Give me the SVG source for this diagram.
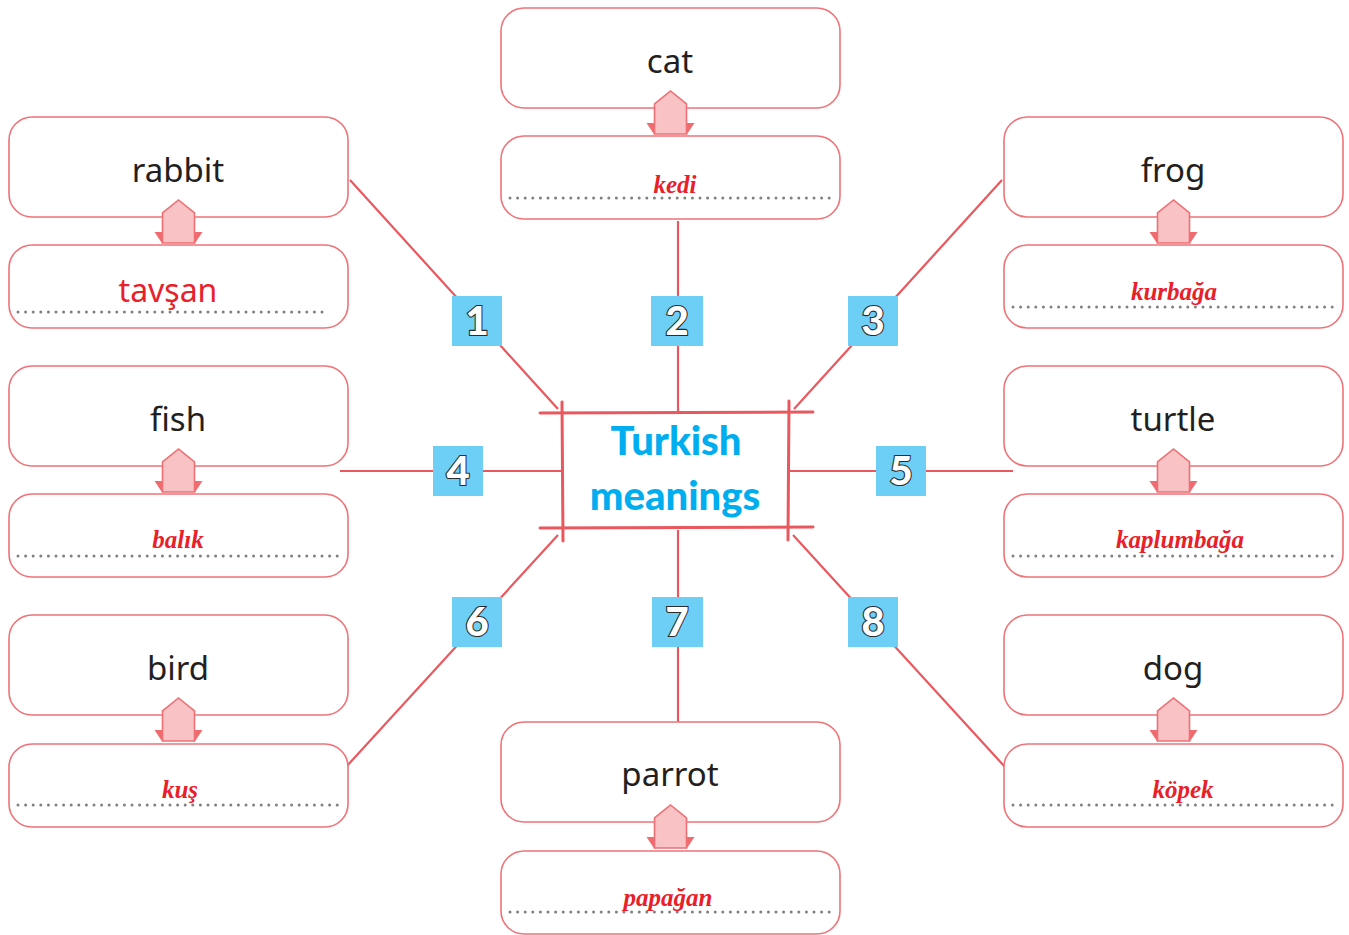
<svg xmlns="http://www.w3.org/2000/svg" width="1349" height="935" viewBox="0 0 1349 935">
<defs>
<style>
.box{fill:#fff;stroke:#f07277;stroke-width:1.6}
.en{font-family:"Noto Sans","Liberation Sans",sans-serif;font-size:33px;fill:#231f20;text-anchor:middle}
.tr{font-family:"Liberation Serif",serif;font-style:italic;font-weight:bold;font-size:25px;fill:#e8202a;text-anchor:middle}
.trs{font-family:"Noto Sans","Liberation Sans",sans-serif;font-size:32px;fill:#e8202a;text-anchor:middle}
.dot{stroke:#808080;stroke-width:3;stroke-linecap:round;stroke-dasharray:0 7.6;fill:none}
.pent{fill:#f9c3c5;stroke:#ef6f74;stroke-width:1.6}
.tri{fill:#ef6b70}
.con{stroke:#e8585e;stroke-width:2.2;fill:none}
.sk{stroke:#e8585e;stroke-width:3;fill:none;stroke-linecap:round}
.nb{fill:#6dcff6}
.num{font-family:"Lato","DejaVu Sans",sans-serif;font-weight:900;font-size:40px;fill:#fff;stroke:#2b2b2b;stroke-width:2.2;paint-order:stroke;text-anchor:middle}
.title{font-family:"Lato","Open Sans",sans-serif;font-weight:900;font-size:40px;fill:#00aeef;text-anchor:middle}
</style>
<g id="arrow">
<polygon class="tri" points="-24,15 -16,15 -16,27"/>
<polygon class="tri" points="24,15 16,15 16,27"/>
<polygon class="pent" points="-16,26 -16,-4 0,-17 16,-4 16,26"/>
</g>
</defs>
<rect width="1349" height="935" fill="#fff"/>

<g id="connectors">
<line class="con" x1="350" y1="180" x2="558" y2="409"/>
<line class="con" x1="678" y1="221" x2="678" y2="413"/>
<line class="con" x1="1002" y1="180" x2="794" y2="409"/>
<line class="con" x1="340" y1="471" x2="562" y2="471"/>
<line class="con" x1="789" y1="471" x2="1013" y2="471"/>
<line class="con" x1="558" y1="535" x2="346" y2="767"/>
<line class="con" x1="678" y1="530" x2="678" y2="722"/>
<line class="con" x1="793" y1="535" x2="1005" y2="767"/>
</g>

<g id="center">
<rect x="562" y="413" width="227" height="115" fill="#fff"/>
<line class="sk" x1="540" y1="413" x2="813" y2="412"/>
<line class="sk" x1="540" y1="528" x2="813" y2="527"/>
<line class="sk" x1="562" y1="402" x2="563" y2="541"/>
<line class="sk" x1="789" y1="401" x2="788" y2="540"/>
<text class="title" x="676" y="455">Turkish</text>
<text class="title" x="675" y="510">meanings</text>
</g>

<g id="n1"><rect class="nb" x="452" y="296" width="50" height="50"/><text class="num" x="477" y="335">1</text></g>
<g id="n2"><rect class="nb" x="651" y="296" width="52" height="50"/><text class="num" x="677" y="335">2</text></g>
<g id="n3"><rect class="nb" x="848" y="296" width="50" height="50"/><text class="num" x="873" y="335">3</text></g>
<g id="n4"><rect class="nb" x="433" y="446" width="50" height="50"/><text class="num" x="458" y="485">4</text></g>
<g id="n5"><rect class="nb" x="876" y="446" width="50" height="50"/><text class="num" x="901" y="485">5</text></g>
<g id="n6"><rect class="nb" x="452" y="597" width="50" height="50"/><text class="num" x="477" y="636">6</text></g>
<g id="n7"><rect class="nb" x="652" y="597" width="51" height="50"/><text class="num" x="677" y="636">7</text></g>
<g id="n8"><rect class="nb" x="848" y="597" width="50" height="50"/><text class="num" x="873" y="636">8</text></g>

<g id="cat">
<rect class="box" x="501" y="8" width="339" height="100" rx="23"/>
<text class="en" x="670" y="73">cat</text>
<rect class="box" x="501" y="136" width="339" height="83" rx="23"/>
<line class="dot" x1="510" y1="198" x2="831" y2="198"/>
<text class="tr" x="675" y="193">kedi</text>
<use href="#arrow" x="670.5" y="108"/>
</g>

<g id="rabbit">
<rect class="box" x="9" y="117" width="339" height="100" rx="23"/>
<text class="en" x="178" y="182">rabbit</text>
<rect class="box" x="9" y="245" width="339" height="83" rx="23"/>
<line class="dot" x1="18" y1="312" x2="326" y2="312"/>
<text class="trs" x="168" y="302">tavşan</text>
<use href="#arrow" x="178.5" y="217"/>
</g>

<g id="frog">
<rect class="box" x="1004" y="117" width="339" height="100" rx="23"/>
<text class="en" x="1173" y="182">frog</text>
<rect class="box" x="1004" y="245" width="339" height="83" rx="23"/>
<line class="dot" x1="1013" y1="307" x2="1334" y2="307"/>
<text class="tr" x="1174" y="300">kurbağa</text>
<use href="#arrow" x="1173.5" y="217"/>
</g>

<g id="fish">
<rect class="box" x="9" y="366" width="339" height="100" rx="23"/>
<text class="en" x="178" y="431">fish</text>
<rect class="box" x="9" y="494" width="339" height="83" rx="23"/>
<line class="dot" x1="18" y1="556" x2="339" y2="556"/>
<text class="tr" x="178" y="548">balık</text>
<use href="#arrow" x="178.5" y="466"/>
</g>

<g id="turtle">
<rect class="box" x="1004" y="366" width="339" height="100" rx="23"/>
<text class="en" x="1173" y="431">turtle</text>
<rect class="box" x="1004" y="494" width="339" height="83" rx="23"/>
<line class="dot" x1="1013" y1="556" x2="1334" y2="556"/>
<text class="tr" x="1180" y="548">kaplumbağa</text>
<use href="#arrow" x="1173.5" y="466"/>
</g>

<g id="bird">
<rect class="box" x="9" y="615" width="339" height="100" rx="23"/>
<text class="en" x="178" y="680">bird</text>
<rect class="box" x="9" y="744" width="339" height="83" rx="23"/>
<line class="dot" x1="18" y1="805" x2="339" y2="805"/>
<text class="tr" x="180" y="798">kuş</text>
<use href="#arrow" x="178.5" y="715"/>
</g>

<g id="dog">
<rect class="box" x="1004" y="615" width="339" height="100" rx="23"/>
<text class="en" x="1173" y="680">dog</text>
<rect class="box" x="1004" y="744" width="339" height="83" rx="23"/>
<line class="dot" x1="1013" y1="805" x2="1334" y2="805"/>
<text class="tr" x="1183" y="798">köpek</text>
<use href="#arrow" x="1173.5" y="715"/>
</g>

<g id="parrot">
<rect class="box" x="501" y="722" width="339" height="100" rx="23"/>
<text class="en" x="670" y="786">parrot</text>
<rect class="box" x="501" y="851" width="339" height="83" rx="23"/>
<line class="dot" x1="510" y1="912" x2="831" y2="912"/>
<text class="tr" x="668" y="906">papağan</text>
<use href="#arrow" x="670.5" y="822"/>
</g>
</svg>
